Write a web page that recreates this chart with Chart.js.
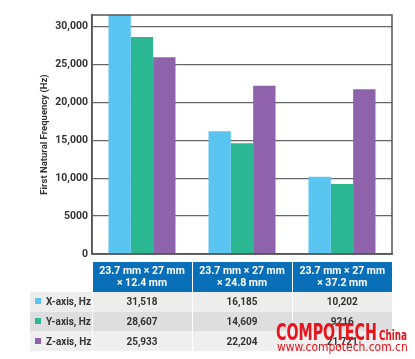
<!DOCTYPE html>
<html lang="en">
<head>
  <meta charset="UTF-8" />
  <title>First Natural Frequency</title>
  <script src="https://cdn.jsdelivr.net/npm/chart.js"></script>
  <style>
    * { margin: 0; padding: 0; box-sizing: border-box; }
    body {
      width: 415px;
      height: 359px;
      background: #fff;
      font-family: Roboto, 'Noto Sans', sans-serif;
      position: relative;
      overflow: hidden;
    }
    #chartBox { position: absolute; left: 0; top: 0; width: 415px; height: 266px; }
    table {
      position: absolute;
      left: 30px;
      top: 262px;
      border-collapse: collapse;
      font-weight: bold;
      font-size: 10px;
      color: #333;
    }
    td, th { padding: 0; text-align: center; }
    th {
      background: #0a6fb9;
      color: #fff;
      width: 100px;
      height: 30px;
      line-height: 12px;
      border-left: 1px solid #fff;
      font-size: 10.5px;
    }
    th.blank { background: #fff; width: 62px; border: none; }
    td { height: 19.7px; border-left: 1px solid #fff; }
    td.lab { text-align: left; padding-left: 5px; border: none; }
    tr.r1 td { background: #ededed; }
    tr.r2 td { background: #dedede; }
    tr.r3 td { background: #efefef; }
    .sw { display: inline-block; width: 6px; height: 6px; margin-right: 5px; vertical-align: 1px; }
    .wm {
      position: absolute;
      color: #e8131b;
      font-family: 'Liberation Sans Narrow', 'DejaVu Sans Condensed', sans-serif;
      white-space: nowrap;
      line-height: 1;
      transform-origin: left top;
    }
  </style>
</head>
<body>
  <div id="chartBox"><canvas id="freqChart" width="415" height="266"></canvas></div>
  <table id="dataTable"></table>
  <div class="wm" data-w="101" style="left:276px; top:321px; font-size:23px; font-weight:bold;">COMPOTECH</div>
  <div class="wm" data-w="28" style="left:379px; top:328px; font-size:14px; font-weight:bold;">China</div>
  <div class="wm" data-w="131" style="left:277px; top:341px; font-size:12px;">www.compotech.com.cn</div>

  <script>
    const sizes = [['23.7 mm × 27 mm', '× 12.4 mm'], ['23.7 mm × 27 mm', '× 24.8 mm'], ['23.7 mm × 27 mm', '× 37.2 mm']];
    const seriesNames = ['X-axis, Hz', 'Y-axis, Hz', 'Z-axis, Hz'];
    const xAxisHz = [31518, 16185, 10202];
    const yAxisHz = [28607, 14609, 9216];
    const zAxisHz = [25933, 22204, 21721];
    const yTicks = [0, 5000, 10000, 15000, 20000, 25000, 30000];
    const colors = ['#5bc5f1', '#2db894', '#8f63ab'];

    const allSeries = [xAxisHz, yAxisHz, zAxisHz];

    // box around the plot (top and right edges too)
    const frame = {
      id: 'frame',
      afterDraw(chart) {
        const a = chart.chartArea;
        const ctx = chart.ctx;
        ctx.save();
        ctx.strokeStyle = '#555';
        ctx.lineWidth = 1.5;
        ctx.strokeRect(a.left, a.top, a.right - a.left, a.bottom - a.top);
        ctx.restore();
      }
    };

    new Chart(document.getElementById('freqChart').getContext('2d'), {
      type: 'bar',
      data: {
        labels: sizes.map(s => s.join(' ')),
        datasets: allSeries.map((d, i) => ({
          label: seriesNames[i],
          data: d,
          backgroundColor: colors[i],
          barPercentage: 1,
          categoryPercentage: 0.67
        }))
      },
      options: {
        responsive: false,
        animation: false,
        layout: { padding: { left: 36, top: 15, right: 23, bottom: 12 } },
        plugins: { legend: { display: false }, tooltip: { enabled: false } },
        scales: {
          x: {
            ticks: { display: false },
            grid: { display: false },
            border: { color: '#555', width: 1.5 },
            afterFit(scale) { scale.height = 0; }
          },
          y: {
            min: 0,
            max: 31518,
            afterBuildTicks(scale) { scale.ticks = yTicks.map(v => ({ value: v })); },
            ticks: {
              color: '#333',
              padding: 4,
              font: { family: 'Roboto', weight: 'bold', size: 10.5 },
              callback: v => v === 5000 ? '5000' : v.toLocaleString('en-US')
            },
            grid: { color: '#666', lineWidth: 1.2, drawTicks: false },
            border: { color: '#555', width: 1.5 },
            title: {
              display: true,
              text: 'First Natural Frequency (Hz)',
              color: '#333',
              padding: { top: 3, bottom: 0 },
              font: { family: 'Roboto', weight: 'bold', size: 9.5 }
            },
            afterFit(scale) { scale.width = 56; }
          }
        }
      },
      plugins: [frame]
    });

    // data table under the chart
    const table = document.getElementById('dataTable');
    let html = '<tr><th class="blank"></th>' + sizes.map(s => '<th>' + s[0] + '<br>' + s[1] + '</th>').join('') + '</tr>';
    allSeries.forEach((d, i) => {
      html += '<tr class="r' + (i + 1) + '"><td class="lab"><span class="sw" style="background:' + colors[i] + '"></span>' + seriesNames[i] + '</td>' +
        d.map(v => '<td>' + (v >= 10000 ? v.toLocaleString('en-US') : String(v)) + '</td>').join('') + '</tr>';
    });
    table.innerHTML = html;

    // squeeze the watermark texts to their widths
    document.querySelectorAll('.wm').forEach(el => {
      const w = +el.dataset.w;
      el.style.transform = 'scaleX(' + (w / el.offsetWidth) + ')';
    });
  </script>
</body>
</html>
